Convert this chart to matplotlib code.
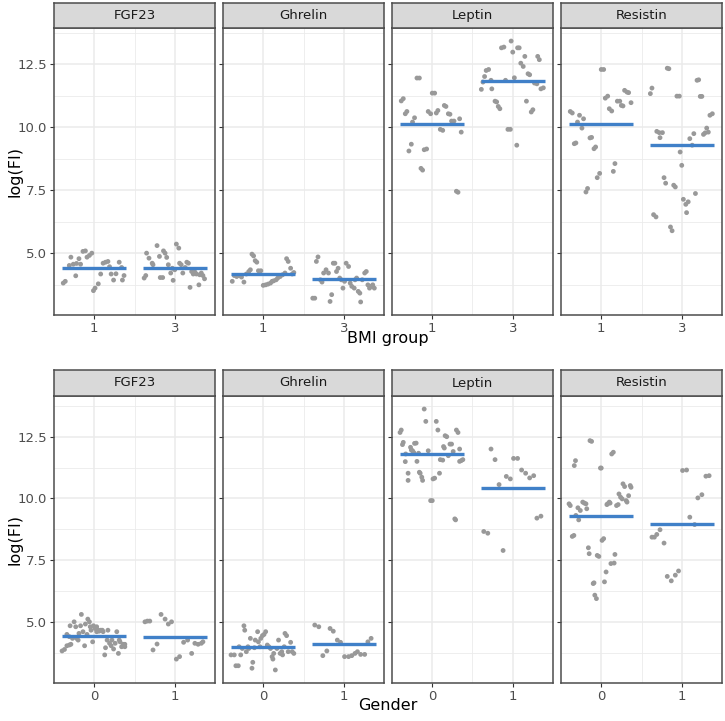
import matplotlib
matplotlib.use("Agg")
import matplotlib.pyplot as plt
import numpy as np

# ---- data (log fluorescence intensity) ----
analytes = ["FGF23", "Ghrelin", "Leptin", "Resistin"]
bmi_groups = ["1", "3"]
gender_groups = ["0", "1"]

# BMI group rows: values and horizontal jitter offsets
fgf23_bmi1 = [3.81, 3.88, 4.51, 4.84, 4.56, 4.59, 4.78, 4.56, 4.10, 5.07, 5.09, 4.84, 4.91, 5.00, 3.51,
              3.61, 3.78, 4.17, 4.60, 4.64, 4.67, 4.46, 4.17, 3.93, 4.18, 4.64, 4.43, 3.93, 4.11]
fgf23_bmi1_jit = [-0.385, -0.36, -0.31, -0.29, -0.26, -0.22, -0.19, -0.17, -0.23, -0.14, -0.11, -0.09, -0.06,
                  -0.03, -0.01, 0.01, 0.05, 0.08, 0.11, 0.14, 0.17, 0.19, 0.21, 0.24, 0.27, 0.31, 0.34, 0.35, 0.37]
fgf23_bmi3 = [4.01, 4.11, 5.00, 4.80, 4.60, 4.54, 5.30, 4.87, 4.03, 4.03, 5.09, 5.00, 4.83, 4.54, 4.21, 4.40,
              3.92, 4.34, 5.36, 5.20, 4.60, 4.54, 4.21, 4.43, 4.64, 4.60, 3.64, 4.27, 4.17, 4.25, 4.17, 3.74,
              4.14, 4.21, 4.11, 3.98]
fgf23_bmi3_jit = [-0.38, -0.36, -0.35, -0.32, -0.28, -0.27, -0.22, -0.19, -0.18, -0.15, -0.14, -0.12, -0.10,
                  -0.08, -0.05, -0.03, -0.02, 0.00, 0.02, 0.05, 0.06, 0.08, 0.10, 0.13, 0.15, 0.17, 0.19, 0.21,
                  0.23, 0.25, 0.27, 0.30, 0.31, 0.33, 0.35, 0.37]
ghrelin_bmi1 = [3.88, 4.11, 4.07, 4.11, 4.05, 3.85, 4.17, 4.27, 4.34, 4.96, 4.89, 4.70, 4.64, 4.30, 4.30, 3.72,
                3.74, 3.77, 3.81, 3.88, 3.90, 3.94, 4.01, 4.07, 4.14, 4.21, 4.78, 4.67, 4.40, 4.17, 4.23]
ghrelin_bmi1_jit = [-0.385, -0.36, -0.33, -0.30, -0.27, -0.24, -0.21, -0.18, -0.16, -0.14, -0.12, -0.10, -0.08,
                    -0.06, -0.03, 0.00, 0.03, 0.06, 0.09, 0.11, 0.13, 0.16, 0.18, 0.21, 0.24, 0.27, 0.29, 0.31,
                    0.34, 0.36, 0.38]
ghrelin_bmi3 = [3.21, 3.21, 4.67, 4.85, 3.94, 3.85, 4.21, 4.34, 4.21, 3.08, 3.35, 4.60, 4.60, 4.27, 4.40, 4.01,
                3.94, 3.61, 3.88, 4.60, 4.47, 3.81, 3.68, 3.61, 3.94, 4.01, 3.48, 3.41, 3.06, 3.94, 4.21, 4.27,
                3.74, 3.61, 3.68, 3.74, 3.61]
ghrelin_bmi3_jit = [-0.385, -0.36, -0.34, -0.32, -0.29, -0.27, -0.25, -0.22, -0.19, -0.17, -0.15, -0.13, -0.11,
                    -0.09, -0.07, -0.05, -0.03, -0.01, 0.01, 0.03, 0.06, 0.08, 0.10, 0.13, 0.14, 0.16, 0.18,
                    0.20, 0.21, 0.23, 0.26, 0.28, 0.30, 0.32, 0.34, 0.36, 0.38]
leptin_bmi1 = [11.05, 11.14, 10.54, 10.63, 9.06, 9.33, 10.21, 10.38, 11.96, 11.96, 8.37, 8.30, 9.11, 9.14, 10.63,
               10.54, 11.36, 11.36, 10.57, 10.67, 9.92, 9.88, 10.87, 10.83, 10.54, 10.52, 10.25, 10.25, 7.46,
               7.42, 10.34, 9.81]
leptin_bmi1_jit = [-0.385, -0.36, -0.335, -0.315, -0.29, -0.26, -0.245, -0.22, -0.19, -0.16, -0.14, -0.12, -0.10,
                   -0.07, -0.05, -0.02, 0.00, 0.03, 0.05, 0.07, 0.10, 0.13, 0.15, 0.17, 0.20, 0.22, 0.24, 0.27,
                   0.30, 0.32, 0.34, 0.36]
leptin_bmi3 = [11.51, 11.80, 12.02, 12.26, 12.30, 11.87, 11.53, 11.04, 11.01, 10.83, 10.74, 13.16, 13.19, 11.87,
               9.92, 9.92, 13.43, 12.99, 11.97, 9.29, 13.16, 13.16, 12.55, 12.42, 12.82, 11.04, 12.13, 12.09,
               10.61, 10.70, 11.76, 11.73, 12.82, 12.69, 11.53, 11.57]
leptin_bmi3_jit = [-0.39, -0.37, -0.35, -0.33, -0.30, -0.27, -0.26, -0.22, -0.20, -0.18, -0.16, -0.14, -0.11,
                   -0.09, -0.06, -0.03, -0.02, 0.00, 0.02, 0.05, 0.06, 0.08, 0.10, 0.13, 0.15, 0.17, 0.19, 0.21,
                   0.23, 0.25, 0.27, 0.30, 0.31, 0.33, 0.35, 0.38]
resistin_bmi1 = [10.63, 10.57, 9.35, 9.38, 10.21, 10.48, 9.97, 10.34, 7.43, 7.57, 9.58, 9.60, 9.15, 9.22, 8.00,
                 8.17, 12.30, 12.30, 11.16, 11.24, 10.74, 10.65, 8.25, 8.56, 11.04, 11.04, 10.87, 10.85, 11.47,
                 11.40, 11.38, 10.98]
resistin_bmi1_jit = [-0.385, -0.36, -0.335, -0.315, -0.295, -0.27, -0.24, -0.22, -0.19, -0.17, -0.14, -0.12,
                     -0.09, -0.07, -0.05, -0.02, 0.00, 0.03, 0.05, 0.08, 0.10, 0.13, 0.15, 0.17, 0.20, 0.23,
                     0.25, 0.27, 0.29, 0.32, 0.34, 0.37]
resistin_bmi3 = [11.34, 11.56, 6.53, 6.44, 9.84, 9.79, 9.59, 9.79, 8.00, 7.78, 12.35, 12.33, 6.04, 5.89, 7.70,
                 7.63, 11.24, 11.24, 9.02, 8.49, 7.14, 6.94, 6.61, 7.04, 9.55, 9.29, 9.75, 7.37, 11.87, 11.89,
                 11.23, 11.23, 9.72, 9.78, 9.97, 9.81, 10.48, 10.54]
resistin_bmi3_jit = [-0.39, -0.37, -0.35, -0.32, -0.31, -0.28, -0.27, -0.24, -0.22, -0.20, -0.18, -0.16, -0.14,
                     -0.12, -0.10, -0.08, -0.06, -0.03, -0.02, 0.00, 0.02, 0.05, 0.06, 0.08, 0.10, 0.13, 0.15,
                     0.17, 0.19, 0.21, 0.23, 0.25, 0.27, 0.29, 0.31, 0.33, 0.35, 0.38]

# Gender rows
fgf23_g0 = [3.82, 3.88, 4.03, 4.06, 4.84, 4.09, 4.33, 5.00, 4.80, 4.33, 4.26, 4.53, 4.84, 5.30, 4.60, 4.03,
            4.91, 4.49, 5.11, 5.00, 4.80, 4.66, 4.19, 4.84, 4.73, 4.80, 4.60, 4.66, 4.62, 4.66, 4.66, 4.60,
            3.66, 3.95, 4.26, 4.66, 4.13, 4.03, 4.26, 3.90, 4.13, 4.60, 3.72, 4.26, 4.19, 3.99, 4.09, 3.99,
            4.09, 4.49, 4.40]
fgf23_g0_jit = [-0.40, -0.37, -0.34, -0.31, -0.30, -0.29, -0.27, -0.25, -0.23, -0.22, -0.20, -0.19, -0.17,
                -0.16, -0.14, -0.12, -0.11, -0.09, -0.08, -0.06, -0.05, -0.04, -0.02, -0.01, 0.01, 0.03, 0.03,
                0.05, 0.06, 0.08, 0.10, 0.11, 0.13, 0.14, 0.16, 0.17, 0.19, 0.21, 0.22, 0.24, 0.26, 0.28, 0.30,
                0.31, 0.32, 0.34, 0.36, 0.38, 0.38, -0.34, -0.31]
fgf23_g1 = [5.00, 5.03, 5.03, 3.86, 4.10, 5.30, 5.11, 4.91, 5.00, 3.49, 3.59, 4.17, 4.26, 3.72, 4.13, 4.09,
            4.13, 4.19]
fgf23_g1_jit = [-0.37, -0.34, -0.31, -0.27, -0.22, -0.17, -0.12, -0.08, -0.04, 0.02, 0.06, 0.11, 0.16, 0.21,
                0.25, 0.29, 0.33, 0.35]
ghrelin_g0 = [3.66, 3.66, 3.22, 3.22, 3.99, 3.66, 3.92, 4.84, 4.66, 3.79, 3.99, 4.33, 3.12, 3.36, 4.26, 4.60,
              4.19, 4.33, 4.44, 4.49, 4.60, 4.06, 3.99, 3.92, 3.59, 3.49, 3.72, 3.05, 3.92, 4.26, 3.72, 3.79,
              3.66, 3.99, 4.53, 4.44, 3.79, 4.17, 3.79, 3.72, 3.95, 3.99, 3.92]
ghrelin_g0_jit = [-0.40, -0.36, -0.34, -0.31, -0.30, -0.28, -0.26, -0.24, -0.23, -0.21, -0.19, -0.16, -0.14,
                  -0.13, -0.10, -0.07, -0.06, -0.03, -0.01, 0.01, 0.03, 0.05, 0.07, 0.09, 0.11, 0.12, 0.13, 0.15,
                  0.17, 0.19, 0.21, 0.23, 0.24, 0.26, 0.27, 0.29, 0.31, 0.34, 0.36, 0.38, -0.11, -0.04, -0.18]
ghrelin_g1 = [4.87, 4.80, 3.63, 3.82, 4.73, 4.62, 4.26, 4.17, 3.59, 3.59, 3.63, 3.72, 3.79, 3.68, 3.68, 4.19,
              4.33]
ghrelin_g1_jit = [-0.36, -0.31, -0.26, -0.21, -0.17, -0.13, -0.08, -0.04, 0.01, 0.06, 0.10, 0.14, 0.17, 0.21,
                  0.26, 0.30, 0.34]
leptin_g0 = [12.67, 12.77, 12.18, 12.27, 11.49, 11.80, 11.02, 10.73, 12.07, 11.96, 11.93, 11.86, 12.23, 12.24,
             11.50, 11.83, 11.06, 11.02, 10.86, 10.73, 13.62, 13.12, 11.93, 9.91, 9.91, 10.79, 10.82, 13.12,
             12.77, 11.02, 11.57, 11.55, 12.10, 12.04, 12.54, 12.50, 11.73, 12.20, 12.20, 11.90, 9.17, 9.13,
             12.77, 12.67, 12.00, 11.50, 11.53, 11.57]
leptin_g0_jit = [-0.40, -0.385, -0.37, -0.36, -0.335, -0.33, -0.30, -0.30, -0.27, -0.26, -0.245, -0.23, -0.22,
                 -0.20, -0.19, -0.17, -0.16, -0.15, -0.13, -0.12, -0.10, -0.08, -0.05, -0.02, 0.00, 0.01, 0.03,
                 0.05, 0.07, 0.09, 0.10, 0.13, 0.14, 0.15, 0.16, 0.18, 0.20, 0.22, 0.24, 0.26, 0.28, 0.29, 0.30,
                 0.32, 0.34, 0.34, 0.36, 0.38]
leptin_g1 = [8.66, 8.59, 12.00, 11.57, 10.56, 7.89, 10.89, 10.79, 11.62, 11.62, 11.15, 11.02, 10.83, 10.92,
             9.20, 9.28]
leptin_g1_jit = [-0.36, -0.31, -0.27, -0.22, -0.17, -0.12, -0.08, -0.03, 0.01, 0.06, 0.11, 0.16, 0.21, 0.26,
                 0.30, 0.35]
resistin_g0 = [9.78, 9.71, 8.46, 8.50, 11.33, 11.53, 9.31, 9.62, 9.13, 9.51, 9.85, 9.81, 9.78, 9.58, 8.00, 7.76,
               12.34, 12.31, 6.55, 6.58, 6.08, 5.94, 7.69, 7.65, 11.23, 11.23, 8.30, 8.37, 6.62, 7.02, 9.75,
               9.78, 9.85, 9.81, 7.36, 11.80, 11.87, 7.38, 7.73, 9.71, 9.75, 10.18, 10.05, 9.98, 10.59, 10.48,
               9.91, 9.85, 10.11, 10.52, 10.45]
resistin_g0_jit = [-0.40, -0.385, -0.36, -0.34, -0.335, -0.32, -0.315, -0.29, -0.28, -0.26, -0.23, -0.21, -0.19,
                   -0.18, -0.16, -0.15, -0.14, -0.12, -0.10, -0.09, -0.08, -0.06, -0.05, -0.03, -0.01, 0.00,
                   0.01, 0.03, 0.04, 0.06, 0.07, 0.08, 0.10, 0.11, 0.12, 0.13, 0.15, 0.16, 0.17, 0.19, 0.21,
                   0.22, 0.24, 0.26, 0.27, 0.29, 0.31, 0.32, 0.34, 0.36, 0.37]
resistin_g1 = [8.43, 8.43, 8.54, 8.73, 8.19, 6.84, 6.66, 6.89, 7.06, 11.13, 11.15, 9.24, 8.94, 10.02, 10.15,
               10.90, 10.92]
resistin_g1_jit = [-0.37, -0.34, -0.31, -0.27, -0.22, -0.18, -0.13, -0.08, -0.04, 0.01, 0.06, 0.10, 0.16, 0.20,
                   0.25, 0.30, 0.34]

# group means (blue bars)
bmi_means = [[4.42, 4.40], [4.17, 3.96], [10.12, 11.83], [10.12, 9.29]]
gender_means = [[4.41, 4.37], [3.97, 4.09], [11.80, 10.41], [9.27, 8.97]]

bmi_data = [
    [(fgf23_bmi1, fgf23_bmi1_jit), (fgf23_bmi3, fgf23_bmi3_jit)],
    [(ghrelin_bmi1, ghrelin_bmi1_jit), (ghrelin_bmi3, ghrelin_bmi3_jit)],
    [(leptin_bmi1, leptin_bmi1_jit), (leptin_bmi3, leptin_bmi3_jit)],
    [(resistin_bmi1, resistin_bmi1_jit), (resistin_bmi3, resistin_bmi3_jit)],
]
gender_data = [
    [(fgf23_g0, fgf23_g0_jit), (fgf23_g1, fgf23_g1_jit)],
    [(ghrelin_g0, ghrelin_g0_jit), (ghrelin_g1, ghrelin_g1_jit)],
    [(leptin_g0, leptin_g0_jit), (leptin_g1, leptin_g1_jit)],
    [(resistin_g0, resistin_g0_jit), (resistin_g1, resistin_g1_jit)],
]

W, H = 725, 721
fig = plt.figure(figsize=(W / 100, H / 100), dpi=100)
fig.patch.set_facecolor("white")

panel_left = [54, 223, 392, 561]
panel_w = 161
PT_COL = "#999999"
MEAN_COL = "#4080C8"
GRID = "#EBEBEB"
BORDER = "#4D4D4D"


def px_rect(x0, y0, w, h):
    return [x0 / W, 1 - (y0 + h) / H, w / W, h / H]


def draw_row(data, means, groups, strip_top, panel_top, panel_bot, xtitle, xtitle_y):
    allv = [v for a in data for g in a for v in g[0]]
    lo, hi = min(allv), max(allv)
    pad = 0.05 * (hi - lo)
    ylim = (lo - pad, hi + pad)
    for i, name in enumerate(analytes):
        ax = fig.add_axes(px_rect(panel_left[i], panel_top, panel_w, panel_bot - panel_top))
        ax.set_xlim(0.5, 2.5)
        ax.set_ylim(*ylim)
        for y in [3.75, 6.25, 8.75, 11.25, 13.75]:
            ax.axhline(y, color=GRID, lw=0.6, zorder=0)
        for y in [5.0, 7.5, 10.0, 12.5]:
            ax.axhline(y, color=GRID, lw=1.1, zorder=0)
        for x in [1, 1.5, 2]:
            ax.axvline(x, color=GRID, lw=1.1 if x != 1.5 else 0.6, zorder=0)
        for k in range(2):
            vals, jit = data[i][k]
            xs = [k + 1 + j for j, v in zip(jit, vals, strict=True)]
            ax.scatter(xs, vals, s=12, color=PT_COL, edgecolors="none", zorder=2)
            ax.plot([k + 1 - 0.4, k + 1 + 0.4], [means[i][k]] * 2, color=MEAN_COL,
                    lw=2.4, solid_capstyle="butt", zorder=3)
        ax.set_xticks([1, 2])
        ax.set_xticklabels(groups)
        ax.set_yticks([5.0, 7.5, 10.0, 12.5])
        if i == 0:
            ax.set_yticklabels(["5.0", "7.5", "10.0", "12.5"])
        else:
            ax.set_yticklabels([])
            ax.tick_params(axis="y", length=0)
        ax.tick_params(colors="#333333", labelcolor="#4D4D4D", labelsize=9.5, width=0.8,
                       length=3, pad=2)
        for sp in ax.spines.values():
            sp.set_color(BORDER)
            sp.set_linewidth(1.1)
        # facet strip
        sax = fig.add_axes(px_rect(panel_left[i], strip_top, panel_w, panel_top - strip_top))
        sax.set_facecolor("#D9D9D9")
        sax.set_xticks([])
        sax.set_yticks([])
        for sp in sax.spines.values():
            sp.set_color(BORDER)
            sp.set_linewidth(1.1)
        sax.text(0.5, 0.5, name, ha="center", va="center", fontsize=9.5, color="#1A1A1A",
                 transform=sax.transAxes)
    fig.text((panel_left[0] + panel_left[-1] + panel_w) / 2 / W, 1 - xtitle_y / H, xtitle,
             ha="center", va="center", fontsize=11.5)
    fig.text(15 / W, 1 - (panel_top + panel_bot) / 2 / H, "log(FI)", rotation=90,
             ha="center", va="center", fontsize=11.5)


draw_row(bmi_data, bmi_means, bmi_groups, 3, 28, 315, "BMI group", 338)
draw_row(gender_data, gender_means, gender_groups, 370, 396, 683, "Gender", 706)

fig.savefig("out.png", dpi=100, facecolor="white")
